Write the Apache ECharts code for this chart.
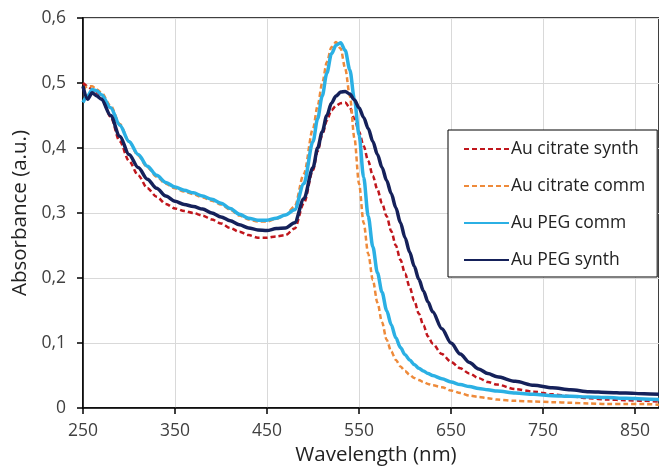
<!DOCTYPE html>
<html>
<head>
<meta charset="utf-8">
<script src="https://cdn.jsdelivr.net/npm/echarts@6/dist/echarts.min.js"></script>
<style>
html,body{margin:0;padding:0;background:#fff;}
#chart{width:659px;height:472px;}
</style>
</head>
<body>
<div id="chart"></div>
<script>
const wavelengths = [250,255,260,265,270,280,290,300,310,320,330,340,350,360,370,380,390,400,410,420,430,440,450,460,470,480,490,500,
  505,510,515,520,525,530,535,540,545,550,555,560,565,570,575,580,585,590,595,600,605,610,615,620,625,630,
  640,650,660,670,680,690,700,720,740,760,780,800,820,840,860,876];

const citrateSynth = [0.50,0.495,0.49,0.485,0.478,0.448,0.41,0.38,0.358,0.338,0.325,0.314,0.307,0.303,0.30,0.296,0.29,0.284,0.277,0.271,0.266,0.262,0.262,0.264,0.266,0.276,0.315,0.366,
  0.395,0.42,0.442,0.458,0.465,0.469,0.47,0.462,0.445,0.425,0.403,0.38,0.357,0.336,0.315,0.295,0.272,0.25,0.228,0.207,0.186,0.165,0.145,0.127,0.11,0.099,
  0.083,0.071,0.061,0.053,0.046,0.040,0.036,0.029,0.025,0.021,0.018,0.015,0.013,0.012,0.011,0.010];

const citrateComm = [0.49,0.495,0.495,0.49,0.485,0.465,0.437,0.41,0.388,0.37,0.356,0.345,0.338,0.333,0.329,0.324,0.319,0.313,0.305,0.296,0.29,0.287,0.287,0.291,0.297,0.31,0.36,0.43,
  0.465,0.50,0.532,0.555,0.563,0.553,0.522,0.48,0.415,0.345,0.285,0.237,0.197,0.162,0.132,0.105,0.087,0.074,0.064,0.057,0.051,0.046,0.043,0.040,0.037,0.035,
  0.032,0.027,0.023,0.019,0.017,0.015,0.013,0.011,0.010,0.009,0.008,0.007,0.006,0.006,0.006,0.005];

const pegComm = [0.47,0.48,0.49,0.488,0.482,0.462,0.435,0.41,0.39,0.372,0.358,0.347,0.34,0.335,0.331,0.326,0.321,0.315,0.307,0.298,0.292,0.289,0.289,0.292,0.297,0.305,0.345,0.41,
  0.445,0.48,0.515,0.545,0.558,0.562,0.55,0.52,0.475,0.42,0.355,0.295,0.248,0.208,0.178,0.15,0.128,0.108,0.093,0.082,0.074,0.067,0.061,0.057,0.053,0.050,
  0.045,0.040,0.036,0.033,0.030,0.028,0.026,0.023,0.021,0.019,0.018,0.017,0.016,0.015,0.014,0.013];

const pegSynth = [0.495,0.475,0.485,0.48,0.475,0.45,0.418,0.39,0.37,0.352,0.338,0.326,0.318,0.313,0.31,0.306,0.30,0.294,0.288,0.282,0.277,0.274,0.273,0.276,0.277,0.285,0.322,0.37,
  0.40,0.425,0.45,0.469,0.48,0.486,0.487,0.483,0.474,0.462,0.447,0.43,0.41,0.39,0.37,0.35,0.33,0.308,0.285,0.262,0.24,0.218,0.198,0.18,0.163,0.148,
  0.122,0.10,0.083,0.07,0.06,0.053,0.048,0.041,0.035,0.031,0.028,0.025,0.024,0.023,0.022,0.021];

const seriesNames = ['Au citrate synth','Au citrate comm','Au PEG comm','Au PEG synth'];
const xTicks = [250,350,450,550,650,750,850];

const pair = arr => wavelengths.map((w,i)=>[w,arr[i]]);
const txt = '#404040';
const font = 'Open Sans';

const chart = echarts.init(document.getElementById('chart'));
chart.setOption({
  animation:false,
  backgroundColor:'#fff',
  textStyle:{fontFamily:font},
  grid:{left:83,top:18,right:0,bottom:64,show:true,borderColor:'#000',borderWidth:1.5,backgroundColor:'transparent'},
  legend:{
    orient:'vertical',left:448,top:130,
    data:seriesNames,
    backgroundColor:'#fff',borderColor:'#000',borderWidth:1,
    padding:[10,12,8,15],
    itemWidth:45,itemHeight:14,itemGap:19,
    itemStyle:{opacity:0},
    textStyle:{fontFamily:font,fontSize:17.5,color:'#222',padding:[0,0,0,-3]}
  },
  xAxis:{
    type:'value',min:250,max:876,interval:100,
    name:'Wavelength (nm)',nameLocation:'middle',nameGap:37,
    nameTextStyle:{fontFamily:font,fontSize:20.5,color:'#222',padding:[0,0,0,10]},
    axisLine:{lineStyle:{color:'#000',width:1.5}},
    axisTick:{show:true,length:6,lineStyle:{color:'#000',width:1.5}},
    axisLabel:{fontFamily:font,fontSize:17.5,color:txt,margin:14,showMaxLabel:false,
      formatter:v=>xTicks.includes(v)?String(v):''},
    splitLine:{show:true,lineStyle:{color:'#d9d9d9',width:1}}
  },
  yAxis:{
    type:'value',min:0,max:0.6,interval:0.1,
    name:'Absorbance (a.u.)',nameLocation:'middle',nameGap:46,
    nameTextStyle:{fontFamily:font,fontSize:20.5,color:'#222'},
    axisLine:{show:true,lineStyle:{color:'#000',width:1.5}},
    axisTick:{show:true,length:6,lineStyle:{color:'#000',width:1.5}},
    axisLabel:{fontFamily:font,fontSize:17.5,color:txt,margin:17,
      formatter:v=>v===0?'0':v.toFixed(1).replace('.',',')},
    splitLine:{show:true,lineStyle:{color:'#d9d9d9',width:1}}
  },
  series:[
    {name:seriesNames[0],type:'line',data:pair(citrateSynth),symbol:'none',smooth:0.3,smoothMonotone:'x',
      lineStyle:{color:'#C0161C',width:2.5,type:[5,3]},itemStyle:{color:'#C0161C'}},
    {name:seriesNames[1],type:'line',data:pair(citrateComm),symbol:'none',smooth:0.3,smoothMonotone:'x',
      lineStyle:{color:'#EE8A3A',width:2.5,type:[5,3]},itemStyle:{color:'#EE8A3A'}},
    {name:seriesNames[2],type:'line',data:pair(pegComm),symbol:'none',smooth:0.3,smoothMonotone:'x',
      lineStyle:{color:'#2BB0E4',width:3.5},itemStyle:{color:'#2BB0E4'}},
    {name:seriesNames[3],type:'line',data:pair(pegSynth),symbol:'none',smooth:0.3,smoothMonotone:'x',
      lineStyle:{color:'#15215A',width:3.5},itemStyle:{color:'#15215A'}}
  ]
});
</script>
</body>
</html>
